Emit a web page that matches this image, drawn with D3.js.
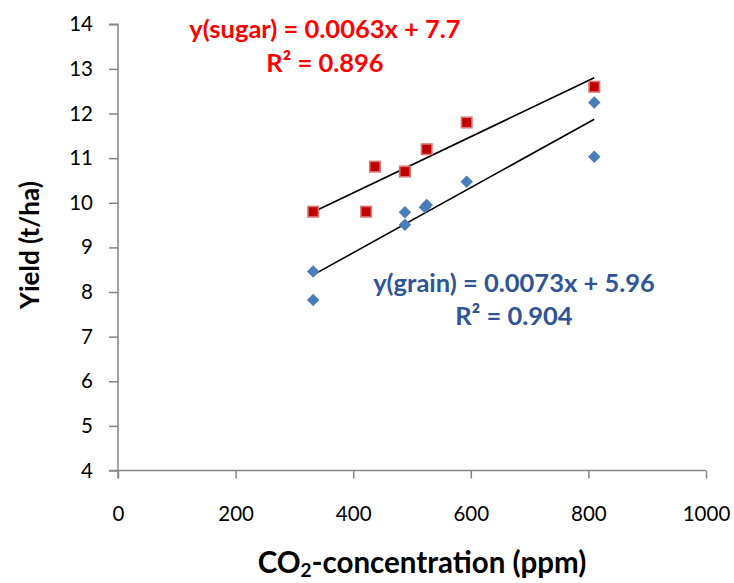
<!DOCTYPE html>
<html><head><meta charset="utf-8">
<script src="https://cdn.jsdelivr.net/npm/d3@7"></script>
<style>body{margin:0;background:#fff}svg{display:block}</style>
</head><body><div id="chart"></div>
<script>
// Data
const sugarX = [332, 422, 437, 488, 525, 593, 810];
const sugarY = [9.80, 9.80, 10.81, 10.70, 11.20, 11.80, 12.60];
const grainX = [332, 332, 488, 488, 522, 525, 593, 810, 810];
const grainY = [8.46, 7.82, 9.79, 9.51, 9.90, 9.95, 10.47, 12.25, 11.03];
const sugarFit = {slope: 0.0063, intercept: 7.7};
const grainFit = {slope: 0.0073, intercept: 5.96};
const xTicks = [0, 200, 400, 600, 800, 1000];
const yTicks = [4, 5, 6, 7, 8, 9, 10, 11, 12, 13, 14];
const sugarLabel = ["y(sugar) = 0.0063x + 7.7", "R² = 0.896"];
const grainLabel = ["y(grain) = 0.0073x + 5.96", "R² = 0.904"];

const W = 734, H = 583;
const svg = d3.select("#chart").append("svg").attr("width", W).attr("height", H);
const font = "Lato, 'Open Sans', sans-serif";

const x = d3.scaleLinear().domain([0, 1000]).range([118, 706]);
const y = d3.scaleLinear().domain([4, 14]).range([470.5, 24.3]);
const axisColor = "#868686";

// Y axis
const gy = svg.append("g").attr("transform", `translate(${x(0)},0)`)
  .call(d3.axisLeft(y).tickValues(yTicks).tickSize(9).tickPadding(16).tickFormat(d3.format("d")));
gy.select(".domain").attr("stroke", axisColor).attr("stroke-width", 1.5);
gy.selectAll(".tick line").attr("stroke", axisColor).attr("stroke-width", 1.5);
gy.selectAll(".tick text").attr("font-family", font).attr("font-size", 20.5).attr("fill", "#000");
gy.select(".domain").attr("d", `M-9,${y(14)}H0V${y(4)+8}`);

// X axis
const gx = svg.append("g").attr("transform", `translate(0,${y(4)})`)
  .call(d3.axisBottom(x).tickValues(xTicks).tickSize(8).tickPadding(28).tickFormat(d3.format("d")));
gx.select(".domain").attr("stroke", axisColor).attr("stroke-width", 1.5).attr("d", `M${x(0)-9},0H${x(1000)}`);
gx.selectAll(".tick line").attr("stroke", axisColor).attr("stroke-width", 1.5);
gx.selectAll(".tick text").attr("font-family", font).attr("font-size", 20.5).attr("fill", "#000");

// Axis titles
svg.append("text").attr("transform", `translate(39,245) rotate(-90)`)
  .attr("text-anchor", "middle").attr("font-family", font).attr("font-weight", "bold")
  .attr("font-size", 26).attr("fill", "#000").text("Yield (t/ha)");
const xt = svg.append("text").attr("x", 422).attr("y", 573)
  .attr("text-anchor", "middle").attr("font-family", font).attr("font-weight", "bold")
  .attr("font-size", 29.5).attr("fill", "#000");
xt.append("tspan").text("CO");
xt.append("tspan").attr("font-size", 19).attr("dy", 4).text("2");
xt.append("tspan").attr("dy", -4).text("-concentration (ppm)");

// Trendlines
function fitLine(xs, fit) {
  const [a, b] = d3.extent(xs);
  return [[a, fit.intercept + fit.slope * a], [b, fit.intercept + fit.slope * b]];
}
const line = d3.line().x(d => x(d[0])).y(d => y(d[1]));
[[sugarX, sugarFit], [grainX, grainFit]].forEach(([xs, f]) => {
  svg.append("path").attr("d", line(fitLine(xs, f))).attr("stroke", "#000")
    .attr("stroke-width", 1.6).attr("fill", "none");
});

// Sugar squares
const s = 10.5;
svg.append("g").selectAll("rect").data(sugarX.map((v, i) => [v, sugarY[i]])).join("rect")
  .attr("x", d => x(d[0]) - s / 2).attr("y", d => y(d[1]) - s / 2)
  .attr("width", s).attr("height", s)
  .attr("fill", "#C00000").attr("stroke", "#D77777").attr("stroke-width", 1.6);

// Grain diamonds
svg.append("g").selectAll("path").data(grainX.map((v, i) => [v, grainY[i]])).join("path")
  .attr("transform", d => `translate(${x(d[0])},${y(d[1])}) rotate(45)`)
  .attr("d", d3.symbol().type(d3.symbolSquare).size(78))
  .attr("fill", "#4A7EBB");

// Equation labels
function label(lines, cx, y0, gap, color) {
  const t = svg.append("text").attr("font-family", font).attr("font-weight", "bold")
    .attr("font-size", 25.5).attr("fill", color).attr("text-anchor", "middle");
  t.append("tspan").attr("x", cx).attr("y", y0).text(lines[0]);
  t.append("tspan").attr("x", cx).attr("y", y0 + gap).text(lines[1]);
}
label(sugarLabel, 325, 38, 34, "#FF0000");
label(grainLabel, 514, 292, 33, "#2F5597");
</script></body></html>
